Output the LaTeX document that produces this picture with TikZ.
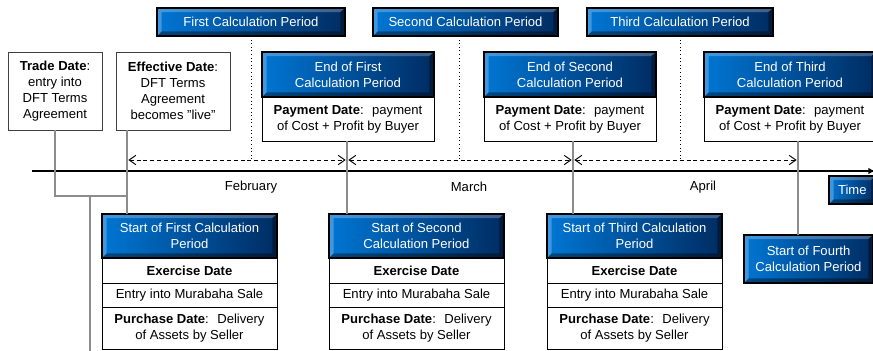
\documentclass[tikz,border=0pt]{standalone}
\usepackage{fontspec}
\setmainfont{Liberation Sans}
\definecolor{lightblue}{RGB}{0, 118, 212}
\definecolor{darkblue}{RGB}{0, 44, 98}
\definecolor{linegray}{RGB}{140, 140, 140}
\usetikzlibrary{arrows.meta}
\usetikzlibrary{calc}
\usetikzlibrary{positioning}
\tikzset{
  every node/.style={font=\fontsize{9.8}{12}\selectfont, outer sep=0, inner sep=2pt, align=center},
  bevel/.style={path picture={
      \coordinate (sw) at (path picture bounding box.south west);
      \coordinate (ne) at (path picture bounding box.north east);
      \coordinate (nw) at (sw |- ne);
      \coordinate (se) at (ne |- sw);
      \fill[white, opacity=.25] (sw) -- (nw) -- (ne) -- ($(ne)+(-3.5pt,-3pt)$)
        -- ($(nw)+(3.5pt,-3pt)$) -- ($(sw)+(3.5pt,3.5pt)$) -- cycle;
      \fill[black, opacity=.4] (sw) -- (se) -- (ne) -- ($(ne)+(-3.5pt,-3pt)$)
        -- ($(se)+(-3.5pt,3.5pt)$) -- ($(sw)+(3.5pt,3.5pt)$) -- cycle;
  }},
  bluebox/.style={draw=black, line width=.8pt, left color=lightblue, right color=darkblue,
    text=white, anchor=north west, bevel},
  rowbox/.style={draw=black, line width=.6pt, fill=white, below=0pt of #1},
  datebox/.style={draw=black!75, line width=.7pt, fill=white, anchor=north west,
    minimum height=58.5pt},
  gline/.style={draw=linegray, line width=.9pt},
  timeline/.style={line width=2pt, -{Latex[length=5pt,width=5pt]}},
  period/.style={<->, >={Straight Barb[length=5pt,width=7pt]}, line width=.7pt,
    dash pattern=on 3pt off 2.2pt, shorten >=1pt, shorten <=1pt}
}
\begin{document}
\begin{tikzpicture}[x=0.75pt, y=-0.75pt]
  \useasboundingbox (0,0) rectangle (873,350);

  % dates on the time line
  \coordinate (d1) at (127,160);
  \coordinate (d2) at (347,160);
  \coordinate (d3) at (573,160);
  \coordinate (d4) at (798,160);
  \coordinate (tstart) at (32,171);
  \coordinate (tend) at (875,171);
  \coordinate (join) at (127,196);
  \coordinate (fork) at (90,196);
  \coordinate (forkend) at (90,352);

  % calculation periods
  \node[bluebox, minimum width=141pt, minimum height=21pt] (per1) at (157,8) {First Calculation Period};
  \node[bluebox, minimum width=138.75pt, minimum height=21pt] (per2) at (373,8) {Second Calculation Period};
  \node[bluebox, minimum width=139.5pt, minimum height=21pt] (per3) at (587,8) {Third Calculation Period};

  \node[datebox, minimum width=70.5pt] (trade) at (8,52) {\textbf{Trade Date}:\\entry into\\DFT Terms\\Agreement};
  \node[datebox, minimum width=85.5pt] (eff) at (116,52) {\textbf{Effective Date}:\\DFT Terms\\Agreement\\becomes "live"};

  % ends of periods
  \node[bluebox, minimum width=129pt, minimum height=33.75pt] (end1) at (262,52) {End of First\\Calculation Period};
  \node[rowbox=end1, minimum width=129pt, minimum height=33pt] (pay1) {\textbf{Payment Date}:~ payment\\of Cost + Profit by Buyer};
  \node[bluebox, minimum width=129pt, minimum height=33.75pt] (end2) at (484,52) {End of Second\\Calculation Period};
  \node[rowbox=end2, minimum width=129pt, minimum height=33pt] (pay2) {\textbf{Payment Date}:~ payment\\of Cost + Profit by Buyer};
  \node[bluebox, minimum width=129pt, minimum height=33.75pt] (end3) at (704,52) {End of Third\\Calculation Period};
  \node[rowbox=end3, minimum width=129pt, minimum height=33pt] (pay3) {\textbf{Payment Date}:~ payment\\of Cost + Profit by Buyer};

  % starts of periods
  \node[bluebox, minimum width=131.25pt, minimum height=33pt] (start1) at (102,214) {Start of First Calculation\\Period};
  \node[rowbox=start1, minimum width=131.25pt, minimum height=18.75pt] (exer1) {\textbf{Exercise Date}};
  \node[rowbox=exer1, minimum width=131.25pt, minimum height=18pt] (entry1) {Entry into Murabaha Sale};
  \node[rowbox=entry1, minimum width=131.25pt, minimum height=31.5pt] (purch1) {\textbf{Purchase Date}:~ Delivery\\of Assets by Seller};

  \node[bluebox, minimum width=131.25pt, minimum height=33pt] (start2) at (329,214) {Start of Second\\Calculation Period};
  \node[rowbox=start2, minimum width=131.25pt, minimum height=18.75pt] (exer2) {\textbf{Exercise Date}};
  \node[rowbox=exer2, minimum width=131.25pt, minimum height=18pt] (entry2) {Entry into Murabaha Sale};
  \node[rowbox=entry2, minimum width=131.25pt, minimum height=31.5pt] (purch2) {\textbf{Purchase Date}:~ Delivery\\of Assets by Seller};

  \node[bluebox, minimum width=131.25pt, minimum height=33pt] (start3) at (547,214) {Start of Third Calculation\\Period};
  \node[rowbox=start3, minimum width=131.25pt, minimum height=18.75pt] (exer3) {\textbf{Exercise Date}};
  \node[rowbox=exer3, minimum width=131.25pt, minimum height=18pt] (entry3) {Entry into Murabaha Sale};
  \node[rowbox=entry3, minimum width=131.25pt, minimum height=31.5pt] (purch3) {\textbf{Purchase Date}:~ Delivery\\of Assets by Seller};

  \node[bluebox, minimum width=96.75pt, minimum height=36pt] (start4) at (744,235) {Start of Fourth\\Calculation Period};

  \node[bluebox, minimum width=35pt, minimum height=21pt] (time) at (829,176) {Time};

  \node (feb) at (251,187) {February};
  \node (mar) at (469,187) {March};
  \node (apr) at (703,187) {April};

  % connectors
  \draw[timeline] (tstart) -- (tend);
  \draw[gline] (trade.south) |- (join);
  \draw[gline] (fork) -- (forkend);
  \draw[gline] (eff.south -| d1) -- (start1.north -| d1);
  \draw[gline] (pay1.south -| d2) -- (start2.north -| d2);
  \draw[gline] (pay2.south -| d3) -- (start3.north -| d3);
  \draw[gline] (pay3.south -| d4) -- (start4.north -| d4);

  \draw[dotted, line width=.7pt] (per1.south) -- (per1.south |- d1);
  \draw[dotted, line width=.7pt] ([xshift=-4.5pt]per2.south) -- ([xshift=-4.5pt]per2.south |- d2);
  \draw[dotted, line width=.7pt] (per3.south) -- (per3.south |- d3);
  \draw[period] (d1) -- (d2);
  \draw[period] (d2) -- (d3);
  \draw[period] (d3) -- (d4);
\end{tikzpicture}
\end{document}
